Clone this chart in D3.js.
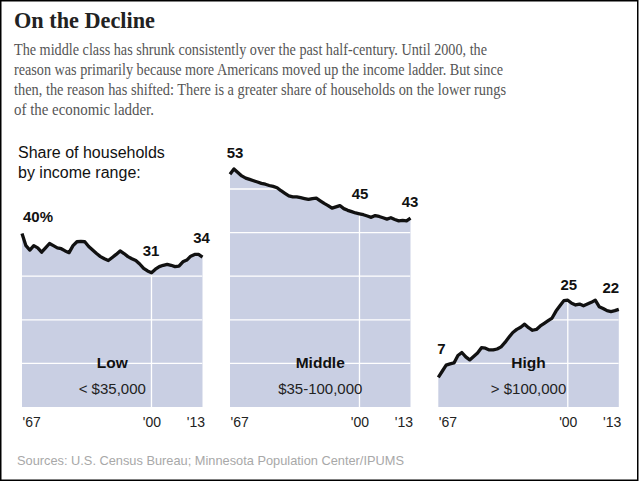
<!DOCTYPE html>
<html>
<head>
<meta charset="utf-8">
<script src="https://cdn.jsdelivr.net/npm/d3@7"></script>
<style>
  html, body { margin: 0; padding: 0; background: #fff; }
  svg { display: block; }
</style>
</head>
<body>
<script>
// ---- Data ----
const years = d3.range(1967, 2014);
const lowValues = [39.8, 37.0, 36.0, 37.0, 36.5, 35.5, 36.5, 37.5, 37.0, 36.5, 36.3, 35.8, 35.4, 37.0, 37.9, 38.0, 37.9, 36.8, 36.0, 35.2, 34.5, 34.0, 33.6, 34.3, 35.0, 35.8, 35.2, 34.5, 34.0, 33.6, 32.8, 31.8, 31.2, 30.8, 31.6, 32.2, 32.5, 32.7, 32.5, 32.2, 32.3, 33.3, 33.7, 34.6, 35.0, 35.0, 34.4];
const middleValues = [53.4, 54.6, 53.8, 53.0, 52.5, 52.2, 51.9, 51.6, 51.3, 51.1, 50.8, 50.6, 50.3, 49.6, 49.0, 48.4, 48.2, 48.2, 48.0, 47.8, 47.6, 47.8, 47.9, 47.3, 46.7, 46.2, 45.6, 45.9, 46.2, 45.5, 45.1, 44.8, 44.5, 44.3, 44.1, 43.8, 43.5, 43.9, 43.7, 43.4, 43.1, 43.4, 43.0, 42.7, 42.8, 42.7, 43.3];
const highValues = [6.8, 8.2, 9.6, 9.9, 10.1, 11.8, 12.5, 11.5, 10.8, 11.6, 12.4, 13.6, 13.5, 13.1, 13.1, 13.3, 13.8, 14.8, 16.0, 17.1, 17.8, 18.3, 19.0, 18.2, 17.6, 17.8, 18.6, 19.2, 19.8, 20.4, 22.0, 23.2, 24.4, 24.5, 23.8, 23.4, 23.6, 23.2, 23.6, 24.0, 24.5, 23.0, 22.6, 22.1, 21.9, 22.1, 22.4];
const panelNames = ["Low", "Middle", "High"];
const panelRanges = ["< $35,000", "$35-100,000", "> $100,000"];
const tickYears = [1967, 2000, 2013];
const tickLabels = ["'67", "'00", "'13"];
const gridValues = [10, 20, 30, 40, 50];
// value callouts: [year, label]
const lowCallouts = [[1967, "40%"], [2000, "31"], [2013, "34"]];
const middleCallouts = [[1967, "53"], [2000, "45"], [2013, "43"]];
const highCallouts = [[1967, "7"], [2000, "25"], [2013, "22"]];

const titleText = "On the Decline";
const subtitleLines = [
  "The middle class has shrunk consistently over the past half-century. Until 2000, the",
  "reason was primarily because more Americans moved up the income ladder. But since",
  "then, the reason has shifted: There is a greater share of households on the lower rungs",
  "of the economic ladder."
];
const sourceText = "Sources: U.S. Census Bureau; Minnesota Population Center/IPUMS";

// ---- Layout ----
const W = 639, H = 482;
const svg = d3.select("body").append("svg").attr("width", W).attr("height", H);

svg.append("rect").attr("x", 0).attr("y", 0).attr("width", W).attr("height", H).attr("fill", "#fff");
svg.append("rect").attr("x", 0.75).attr("y", 0.75).attr("width", 637).attr("height", 479.5)
  .attr("fill", "none").attr("stroke", "#000").attr("stroke-width", 1.5);

const serif = "'Liberation Serif', 'DejaVu Serif', serif";
const sans = "'Liberation Sans', Arial, sans-serif";

svg.append("text").attr("x", 14).attr("y", 28)
  .attr("font-family", serif).attr("font-weight", "bold").attr("font-size", 22.5)
  .attr("fill", "#222").attr("textLength", 141).attr("lengthAdjust", "spacingAndGlyphs")
  .text(titleText);

const subWidths = [473, 489, 492, 140];
subtitleLines.forEach((t, i) => {
  svg.append("text").attr("x", 14).attr("y", 54.5 + i * 20.1)
    .attr("font-family", serif).attr("font-size", 17).attr("fill", "#555")
    .attr("textLength", subWidths[i]).attr("lengthAdjust", "spacingAndGlyphs")
    .text(t);
});

svg.append("text").attr("x", 18).attr("y", 158)
  .attr("font-family", sans).attr("font-size", 16).attr("fill", "#111").text("Share of households");
svg.append("text").attr("x", 18).attr("y", 178)
  .attr("font-family", sans).attr("font-size", 16).attr("fill", "#111").text("by income range:");

svg.append("text").attr("x", 17).attr("y", 465)
  .attr("font-family", sans).attr("font-size", 12.8).attr("fill", "#a8a8a8").text(sourceText);

const y = d3.scaleLinear().domain([0, 50]).range([407, 189]);
const panelX = [22, 230, 438.3];
const panelW = 180.5;
const series = [lowValues, middleValues, highValues];
const callouts = [lowCallouts, middleCallouts, highCallouts];
// label offsets relative to data point (dx, dy baseline)
const calloutPos = [
  [[1, -11, "start"], [-0.5, -17, "middle"], [-1, -14, "middle"]],
  [[5, -16, "middle"], [0.5, -15, "middle"], [-0.5, -11, "middle"]],
  [[-1, -23, "start"], [1, -10, "middle"], [-8, -16, "middle"]]
];

series.forEach((vals, p) => {
  const x = d3.scaleLinear().domain([1967, 2013]).range([panelX[p], panelX[p] + panelW]);
  const g = svg.append("g");
  const data = years.map((yr, i) => ({ yr, v: vals[i] }));

  g.append("path").datum(data)
    .attr("d", d3.area().x(d => x(d.yr)).y0(y(0)).y1(d => y(d.v)))
    .attr("fill", "#c9cfe3");

  // white gridlines clipped to area
  const clipId = "clip" + p;
  g.append("clipPath").attr("id", clipId).append("path").datum(data)
    .attr("d", d3.area().x(d => x(d.yr)).y0(y(0)).y1(d => y(d.v)));
  const grid = g.append("g").attr("clip-path", `url(#${clipId})`);
  grid.selectAll("line.h").data(gridValues).enter().append("line")
    .attr("x1", x(1967)).attr("x2", x(2013))
    .attr("y1", d => y(d)).attr("y2", d => y(d))
    .attr("stroke", "#fff").attr("stroke-width", 1.3);
  grid.append("line").attr("x1", x(2000)).attr("x2", x(2000))
    .attr("y1", y(0)).attr("y2", y(60)).attr("stroke", "#fff").attr("stroke-width", 1.3);

  g.append("path").datum(data)
    .attr("d", d3.line().x(d => x(d.yr)).y(d => y(d.v)))
    .attr("fill", "none").attr("stroke", "#111").attr("stroke-width", 3.3)
    .attr("stroke-linejoin", "round");

  // ticks
  const axis = d3.axisBottom(x).tickValues(tickYears).tickSize(0)
    .tickFormat((d, i) => tickLabels[i]);
  const ax = g.append("g").attr("transform", `translate(0, ${y(0)})`).call(axis);
  ax.select(".domain").remove();
  ax.selectAll("text").attr("font-family", sans).attr("font-size", 14).attr("fill", "#222")
    .attr("dy", 0).attr("y", 19.5)
    .attr("text-anchor", (d, i) => i === 0 ? "start" : (i === 2 ? "end" : "middle"))
    .attr("dx", (d, i) => i === 2 ? 2 : 0);

  // callouts
  callouts[p].forEach((c, i) => {
    const idx = years.indexOf(c[0]);
    const pos = calloutPos[p][i];
    g.append("text")
      .attr("x", x(c[0]) + pos[0]).attr("y", y(vals[idx]) + pos[1])
      .attr("text-anchor", pos[2])
      .attr("font-family", sans).attr("font-weight", "bold").attr("font-size", 15)
      .attr("fill", "#111").text(c[1]);
  });

  const cx = panelX[p] + panelW / 2;
  g.append("text").attr("x", cx).attr("y", 367.5).attr("text-anchor", "middle")
    .attr("font-family", sans).attr("font-weight", "bold").attr("font-size", 15.5)
    .attr("fill", "#111").text(panelNames[p]);
  g.append("text").attr("x", cx).attr("y", 394).attr("text-anchor", "middle")
    .attr("font-family", sans).attr("font-size", 15)
    .attr("fill", "#222").text(panelRanges[p]);
});
</script>
</body>
</html>
